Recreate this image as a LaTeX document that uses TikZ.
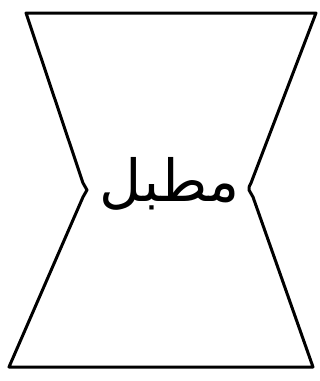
\documentclass[tikz,border=0pt]{standalone}
\usepackage{fontspec}
\usepackage{tikz}
\newfontfamily\arabicfont[Script=Arabic]{DejaVu Sans}
\TeXXeTstate=1

\begin{document}
\begin{tikzpicture}[x=1pt,y=-1pt,
   outline/.style={draw,line width=3pt,line join=round},
   word/.style={font=\arabicfont\fontsize{58}{62}\selectfont,inner sep=0pt}]
  \useasboundingbox (0,0) rectangle (320,381);
  % vessel outline with the two notches at the waist
  \draw[outline] (26,13) -- (316,13) -- (251,183)
        to[out=250,in=110] (249,190) to[out=290,in=110] (253,197)
        -- (313,367) -- (9,367) -- (83,197)
        to[out=70,in=250] (87,190) to[out=110,in=290] (83,183) -- cycle;
  \node[word] (label) at (170,184) {\beginR مطبل\endR};
\end{tikzpicture}
\end{document}
